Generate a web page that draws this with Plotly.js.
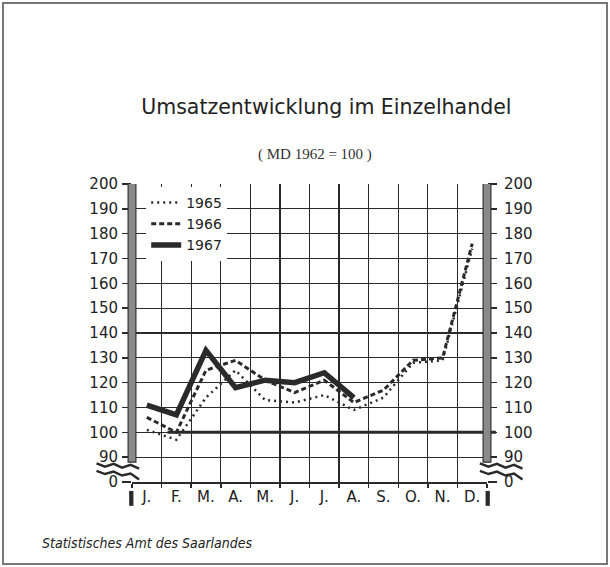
<!DOCTYPE html>
<html>
<head>
<meta charset="utf-8">
<script src="https://cdn.plot.ly/plotly-3.0.1.min.js"></script>
<style>
html,body{margin:0;padding:0;background:#fff;}
#frame{position:absolute;left:2px;top:2px;width:602px;height:559px;border:2px solid #777;}
#chart{position:absolute;left:0;top:0;width:610px;height:567px;}
</style>
</head>
<body>
<div id="frame"></div>
<div id="chart"></div>
<script>
var months = ['J.', 'F.', 'M.', 'A.', 'M.', 'J.', 'J.', 'A.', 'S.', 'O.', 'N.', 'D.'];
var monthIdx = [1, 2, 3, 4, 5, 6, 7, 8, 9, 10, 11, 12];
var y1965 = [101, 97, 114, 125, 113, 112, 115, 109, 114, 128, 129, 174];
var y1966 = [106, 100, 125, 129, 121, 116, 121, 112, 117, 129, 130, 176];
var y1967 = [111, 107, 133, 118, 121, 120, 124, 114];
var yTickVals = [80, 90, 100, 110, 120, 130, 140, 150, 160, 170, 180, 190, 200];
var yTickText = ['0', '90', '100', '110', '120', '130', '140', '150', '160', '170', '180', '190', '200'];
var gridX = [0.5, 1.5, 2.5, 3.5, 4.5, 5.5, 6.5, 7.5, 8.5, 9.5, 10.5, 11.5, 12.5];

var ink = '#2a2a2a';
var traces = [
  {x: monthIdx.slice(0, y1965.length), y: y1965, name: '1965', mode: 'lines',
   line: {color: ink, width: 2.5, dash: '2px,4px'}},
  {x: monthIdx.slice(0, y1966.length), y: y1966, name: '1966', mode: 'lines',
   line: {color: ink, width: 3, dash: '5px,3px'}},
  {x: monthIdx.slice(0, y1967.length), y: y1967, name: '1967', mode: 'lines',
   line: {color: ink, width: 5.5}},
  {x: [1], y: [150], yaxis: 'y2', showlegend: false, hoverinfo: 'skip',
   mode: 'markers', marker: {opacity: 0}}
];

function zig(x0, x1) {
  var w = x1 - x0;
  var p = 'M' + x0 + ',87.5';
  var ys = [86.2, 87.3, 85.8, 86.9, 85.4];
  for (var i = 0; i < ys.length; i++) {
    p += ' L' + (x0 + w * (i + 1) / ys.length) + ',' + ys[i];
  }
  p += ' M' + x0 + ',84.5';
  var ys2 = [83.2, 84.2, 82.6, 83.4, 81.0];
  for (var j = 0; j < ys2.length; j++) {
    p += ' L' + (x0 + w * (j + 1) / ys2.length) + ',' + ys2[j];
  }
  return p;
}

var shapes = [
  {type: 'rect', xref: 'paper', yref: 'y', x0: -0.01, x1: 1.01, y0: 80.4, y1: 89.6,
   fillcolor: '#fff', line: {width: 0}, layer: 'between'},
  {type: 'line', xref: 'paper', yref: 'y', x0: 0.1, x1: 1.025, y0: 100, y1: 100,
   line: {color: ink, width: 3}, layer: 'between'},
  {type: 'rect', xref: 'paper', yref: 'y', x0: -0.011, x1: 0.011, y0: 88, y1: 200.5,
   fillcolor: '#8a8a8a', line: {color: '#333', width: 1.2}, layer: 'above'},
  {type: 'rect', xref: 'paper', yref: 'y', x0: 0.989, x1: 1.011, y0: 88, y1: 200.5,
   fillcolor: '#8a8a8a', line: {color: '#333', width: 1.2}, layer: 'above'},
  {type: 'path', xref: 'paper', yref: 'y', path: zig(-0.1, 0.02), line: {color: ink, width: 2.5}},
  {type: 'path', xref: 'paper', yref: 'y', path: zig(0.98, 1.1), line: {color: ink, width: 2.5}},
  {type: 'rect', xref: 'paper', yref: 'paper', x0: -0.008, x1: 0.004, y0: -0.08, y1: -0.03,
   fillcolor: ink, line: {width: 0}},
  {type: 'rect', xref: 'paper', yref: 'paper', x0: 0.996, x1: 1.008, y0: -0.08, y1: -0.03,
   fillcolor: ink, line: {width: 0}}
];

var layout = {
  width: 610, height: 567,
  margin: {l: 132, r: 123, t: 184, b: 85},
  paper_bgcolor: 'rgba(0,0,0,0)',
  plot_bgcolor: '#fff',
  showlegend: true,
  title: {
    text: 'Umsatzentwicklung im Einzelhandel',
    font: {family: 'DejaVu Sans', size: 20.5, color: '#222'},
    x: 0.535, xref: 'container', xanchor: 'center',
    y: 1 - 107 / 567, yref: 'container', yanchor: 'middle'
  },
  annotations: [
    {text: '(\u00a0MD\u00a01962\u00a0=\u00a0100\u00a0)', xref: 'paper', yref: 'paper', x: 0.515, y: 1 + (184 - 154) / 298,
     showarrow: false, xanchor: 'center', yanchor: 'middle',
     font: {family: 'Liberation Serif', size: 15, color: '#333'}},
    {text: '<i>Statistisches Amt des Saarlandes</i>', xref: 'paper', yref: 'paper',
     x: (40 - 132) / 355, y: -(543 - 482) / 298, showarrow: false, xanchor: 'left', yanchor: 'middle',
     font: {family: 'DejaVu Sans Condensed, DejaVu Sans', size: 14, color: '#222'}}
  ],
  xaxis: {
    range: [0.5, 12.5], tickmode: 'array', tickvals: monthIdx, ticktext: months,
    showgrid: false, zeroline: false, ticks: '', showline: true, linecolor: ink, linewidth: 1.5,
    tickfont: {family: 'DejaVu Sans', size: 15, color: '#222'},
    minor: {tickmode: 'array', tickvals: gridX, showgrid: true, gridcolor: ink, gridwidth: 1.3,
            ticks: 'outside', ticklen: 4, tickcolor: ink, tickwidth: 1.5},
    fixedrange: true
  },
  yaxis: {
    range: [80, 200], tickmode: 'array', tickvals: yTickVals, ticktext: yTickText,
    showgrid: true, gridcolor: ink, gridwidth: 1.3, zeroline: false,
    ticks: 'outside', ticklen: 9, tickcolor: ink, tickwidth: 1.5, showline: false,
    tickfont: {family: 'DejaVu Sans', size: 15, color: '#222'}, ticklabelstandoff: 1,
    fixedrange: true
  },
  yaxis2: {
    overlaying: 'y', side: 'right', range: [80, 200], tickmode: 'array',
    tickvals: yTickVals, ticktext: yTickText, showgrid: false, zeroline: false,
    ticks: 'outside', ticklen: 9, tickcolor: ink, tickwidth: 1.5,
    tickfont: {family: 'DejaVu Sans', size: 15, color: '#222'}, ticklabelstandoff: 4,
    fixedrange: true
  },
  legend: {
    x: 0.04, y: 0.99, xanchor: 'left', yanchor: 'top', bgcolor: '#fff',
    font: {family: 'DejaVu Sans', size: 14, color: '#222'},
    itemwidth: 30, tracegroupgap: 0, traceorder: 'normal'
  },
  shapes: shapes
};

Plotly.newPlot('chart', traces, layout, {displayModeBar: false, staticPlot: true});
</script>
</body>
</html>
